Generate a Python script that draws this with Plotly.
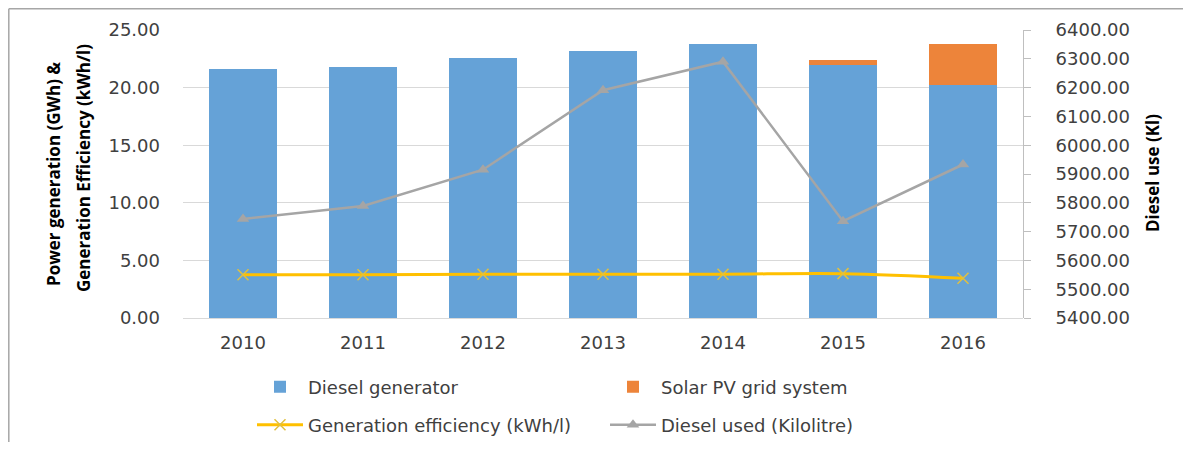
import plotly.graph_objects as go

years = ["2010", "2011", "2012", "2013", "2014", "2015", "2016"]
diesel_gen = [21.6, 21.8, 22.6, 23.17, 23.75, 22.0, 20.25]
solar_pv = [None, None, None, None, None, 0.38, 3.5]
gen_eff = [3.75, 3.75, 3.80, 3.80, 3.80, 3.85, 3.45]
diesel_used = [5744, 5789, 5915, 6191, 6290, 5736, 5933]

left_ticks = [0, 5, 10, 15, 20, 25]
right_ticks = [5400 + 100 * i for i in range(11)]

# page body has an 8px margin on every side; size the figure so the page is exactly 1191x450
OFF = 8
PAGE_W, PAGE_H = 1191, 450
PL, PR, PT, PB = 183, 1023, 30, 318  # plot area in page pixels
FIG_W, FIG_H = PAGE_W - 2 * OFF, PAGE_H - 2 * OFF


def X(a):
    return (a - PL) / (PR - PL)


def Y(a):
    return (PB - a) / (PB - PT)


TICK_FONT = dict(family="DejaVu Sans", size=18, color="#404040")
LEG_FONT = dict(family="DejaVu Sans", size=18, color="#404040")
TITLE_FONT = dict(family="Open Sans", size=17, color="black")

fig = go.Figure()
fig.add_trace(go.Bar(x=years, y=diesel_gen, name="Diesel generator",
                     marker=dict(color="#65A2D7", line=dict(width=0)), width=0.57,
                     legend="legend"))
fig.add_trace(go.Bar(x=years, y=solar_pv, name="Solar PV grid system",
                     marker=dict(color="#ED843A", line=dict(width=0)), width=0.57,
                     legend="legend"))
fig.add_trace(go.Scatter(x=years, y=gen_eff, name="Generation efficiency (kWh/l)",
                         mode="lines+markers", line=dict(color="#FFC000", width=3, shape="spline"),
                         marker=dict(symbol="x-thin", size=11, line=dict(color="#E0C040", width=1.5)),
                         legend="legend2"))
fig.add_trace(go.Scatter(x=years, y=diesel_used, name="Diesel used (Kilolitre)",
                         mode="lines+markers", line=dict(color="#A5A5A5", width=2.5),
                         marker=dict(symbol="triangle-up", size=11, color="#A5A5A5"),
                         yaxis="y2", legend="legend2"))

fig.update_layout(
    width=FIG_W, height=FIG_H,
    margin=dict(l=PL - OFF, r=FIG_W - (PR - OFF), t=PT - OFF, b=FIG_H - (PB - OFF),
                autoexpand=False),
    paper_bgcolor="white", plot_bgcolor="white",
    barmode="stack",
    xaxis=dict(type="category", showgrid=False, showline=False, ticks="",
               tickfont=TICK_FONT, ticklabelstandoff=12),
    yaxis=dict(range=[0, 25], tickvals=left_ticks, tickformat=".2f",
               showgrid=True, gridcolor="#d9d9d9", gridwidth=1,
               zeroline=True, zerolinecolor="#d9d9d9", zerolinewidth=1,
               showline=False, ticks="", tickfont=TICK_FONT, ticklabelstandoff=22),
    yaxis2=dict(range=[5400, 6400], tickvals=right_ticks, tickformat=".2f",
                overlaying="y", side="right", showgrid=False, zeroline=False,
                showline=True, linecolor="#bfbfbf", linewidth=1,
                ticks="outside", ticklen=7, tickcolor="#bfbfbf",
                tickfont=TICK_FONT, ticklabelstandoff=21),
    legend=dict(orientation="h", x=X(252), xanchor="left",
                y=Y(387), yanchor="middle", itemwidth=46,
                font=LEG_FONT, entrywidth=292, entrywidthmode="pixels",
                bgcolor="rgba(0,0,0,0)", traceorder="normal"),
    legend2=dict(orientation="h", x=X(252), xanchor="left",
                 y=Y(425), yanchor="middle", itemwidth=46,
                 font=LEG_FONT, entrywidth=292, entrywidthmode="pixels",
                 bgcolor="rgba(0,0,0,0)", traceorder="normal"),
    annotations=[
        dict(text="<b>Power generation (GWh) &</b>",
             xref="paper", yref="paper", x=X(53), y=Y(174),
             xanchor="center", yanchor="middle", textangle=-90, showarrow=False,
             font=TITLE_FONT),
        dict(text="<b>Generation Efficiency (kWh/l)</b>",
             xref="paper", yref="paper", x=X(83), y=Y(168),
             xanchor="center", yanchor="middle", textangle=-90, showarrow=False,
             font=TITLE_FONT),
        dict(text="<b>Diesel use (Kl)</b>",
             xref="paper", yref="paper", x=X(1152), y=Y(173),
             xanchor="center", yanchor="middle", textangle=-90, showarrow=False,
             font=TITLE_FONT),
    ],
    shapes=[
        dict(type="line", xref="paper", yref="paper",
             x0=X(8.8), x1=X(8.8), y0=Y(8.8), y1=Y(460),
             line=dict(color="#a6a6a6", width=1.5)),
        dict(type="line", xref="paper", yref="paper",
             x0=X(8.8), x1=X(1200), y0=Y(8.8), y1=Y(8.8),
             line=dict(color="#a6a6a6", width=1.5)),
    ],
)

fig.write_html("out.html")
